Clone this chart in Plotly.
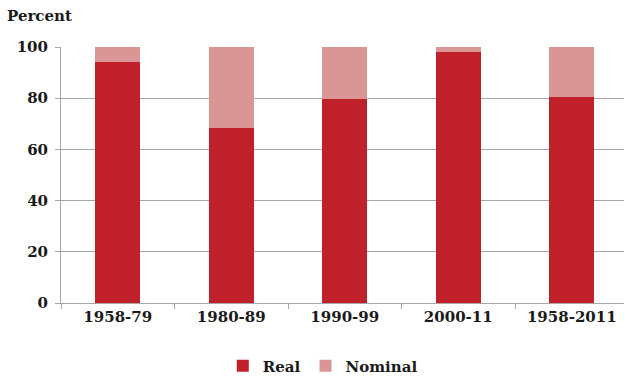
import plotly.graph_objects as go

periods = ["1958-79", "1980-89", "1990-99", "2000-11", "1958-2011"]
real = [94.1, 68.4, 79.8, 98.0, 80.5]
nominal = [100 - v for v in real]
y_ticks = [0, 20, 40, 60, 80, 100]

FONT = "DejaVu Serif"
TEXT_COLOR = "#1a1a1a"
REAL_COLOR = "#C0202A"
NOMINAL_COLOR = "#D99694"
AXIS_COLOR = "#A6A6A6"

fig = go.Figure()
fig.add_trace(go.Bar(x=periods, y=real, name="Real",
                     marker=dict(color=REAL_COLOR, line=dict(width=0))))
fig.add_trace(go.Bar(x=periods, y=nominal, name="Nominal",
                     marker=dict(color=NOMINAL_COLOR, line=dict(width=0))))

bold = dict(family=FONT, size=15, color=TEXT_COLOR, weight="bold")

fig.update_layout(
    barmode="stack",
    bargap=0.6,
    width=624, height=377,
    margin=dict(l=61, r=0, t=47, b=74, autoexpand=False),
    paper_bgcolor="white", plot_bgcolor="white",
    font=dict(family=FONT, size=15, color=TEXT_COLOR),
    showlegend=True,
    legend=dict(orientation="h", x=0.465, xanchor="center", xref="paper",
                y=11 / 377, yanchor="middle", yref="container",
                font=bold, itemwidth=30, traceorder="normal"),
    annotations=[dict(text="<b>Percent</b>", xref="paper", yref="paper",
                      x=-0.1, y=1.121, xanchor="left", yanchor="middle",
                      showarrow=False,
                      font=dict(family=FONT, size=15, color=TEXT_COLOR))],
)

fig.update_xaxes(
    type="category", range=[-0.5, 4.46],
    showline=True, linecolor=AXIS_COLOR, linewidth=1,
    ticks="outside", ticklen=5, tickcolor=AXIS_COLOR, tickson="boundaries",
    showgrid=False,
    tickfont=bold,
)
fig.update_yaxes(
    range=[0, 100], tickvals=y_ticks,
    showline=True, linecolor=AXIS_COLOR, linewidth=1,
    ticks="outside", ticklen=5, tickcolor=AXIS_COLOR,
    showgrid=True, gridcolor=AXIS_COLOR, gridwidth=1,
    zeroline=False,
    tickfont=bold,
    ticklabelstandoff=4,
)

fig.write_html("out.html")
